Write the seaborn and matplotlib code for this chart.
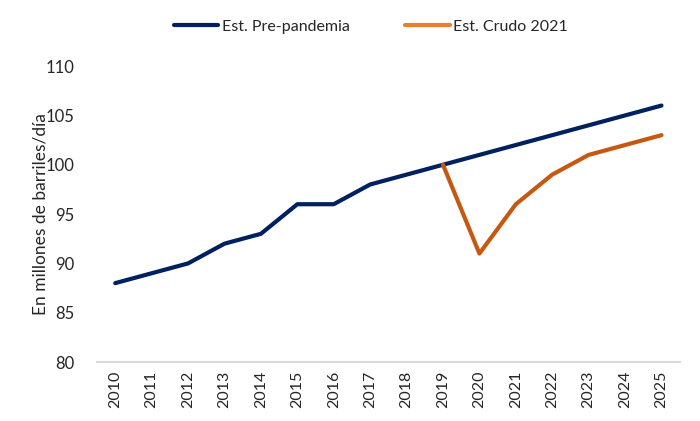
import pandas as pd
import matplotlib
matplotlib.use("Agg")
import matplotlib.pyplot as plt
import seaborn as sns

years = list(range(2010, 2026))
pre_pandemia = [88, 89, 90, 92, 93, 96, 96, 98, 99, 100, 101, 102, 103, 104, 105, 106]
crudo_years = list(range(2019, 2026))
crudo_2021 = [100, 91, 96, 99, 101, 102, 103]

NAVY = "#002060"
ORANGE = "#C65911"
ORANGE_LEGEND = "#ED7D31"

df = pd.concat([
    pd.DataFrame({"year": years, "value": pre_pandemia, "serie": "Est. Pre-pandemia"}),
    pd.DataFrame({"year": crudo_years, "value": crudo_2021, "serie": "Est. Crudo 2021"}),
])

sns.set_theme(style="white")
plt.rcParams["font.family"] = ["Lato", "DejaVu Sans"]

fig = plt.figure(figsize=(7, 4.21), dpi=100)
ax = fig.add_axes([0.1386, 0.140, 0.8324, 0.703])

sns.lineplot(data=df, x="year", y="value", hue="serie",
             palette={"Est. Pre-pandemia": NAVY, "Est. Crudo 2021": ORANGE},
             linewidth=3, ax=ax, legend=True)

ax.set_xlim(years[0] - 0.5, years[-1] + 0.5)
ax.set_ylim(80, 110)
ax.set_xticks(years)
ax.set_xticklabels([str(y) for y in years], rotation=90, fontsize=11.5)
ax.set_yticks(range(80, 111, 5))
ax.tick_params(axis="y", labelsize=12, length=0, pad=16)
ax.tick_params(axis="x", length=0, pad=6)
ax.set_xlabel("")
ax.set_ylabel("En millones de barriles/día", fontsize=12.5)
ax.yaxis.set_label_coords(-0.084, 0.5)

for s in ["left", "right", "top"]:
    ax.spines[s].set_visible(False)
ax.spines["bottom"].set_color("#D9D9D9")
ax.spines["bottom"].set_linewidth(1.5)

handles, labels = ax.get_legend_handles_labels()
handles[1].set_color(ORANGE_LEGEND)
ax.legend(handles, labels, loc="upper center", bbox_to_anchor=(0.47, 1.205),
          ncol=2, frameon=False, fontsize=11.5, handlelength=2.8,
          handletextpad=0.2, columnspacing=3.5)

fig.savefig("out.png", dpi=100)
